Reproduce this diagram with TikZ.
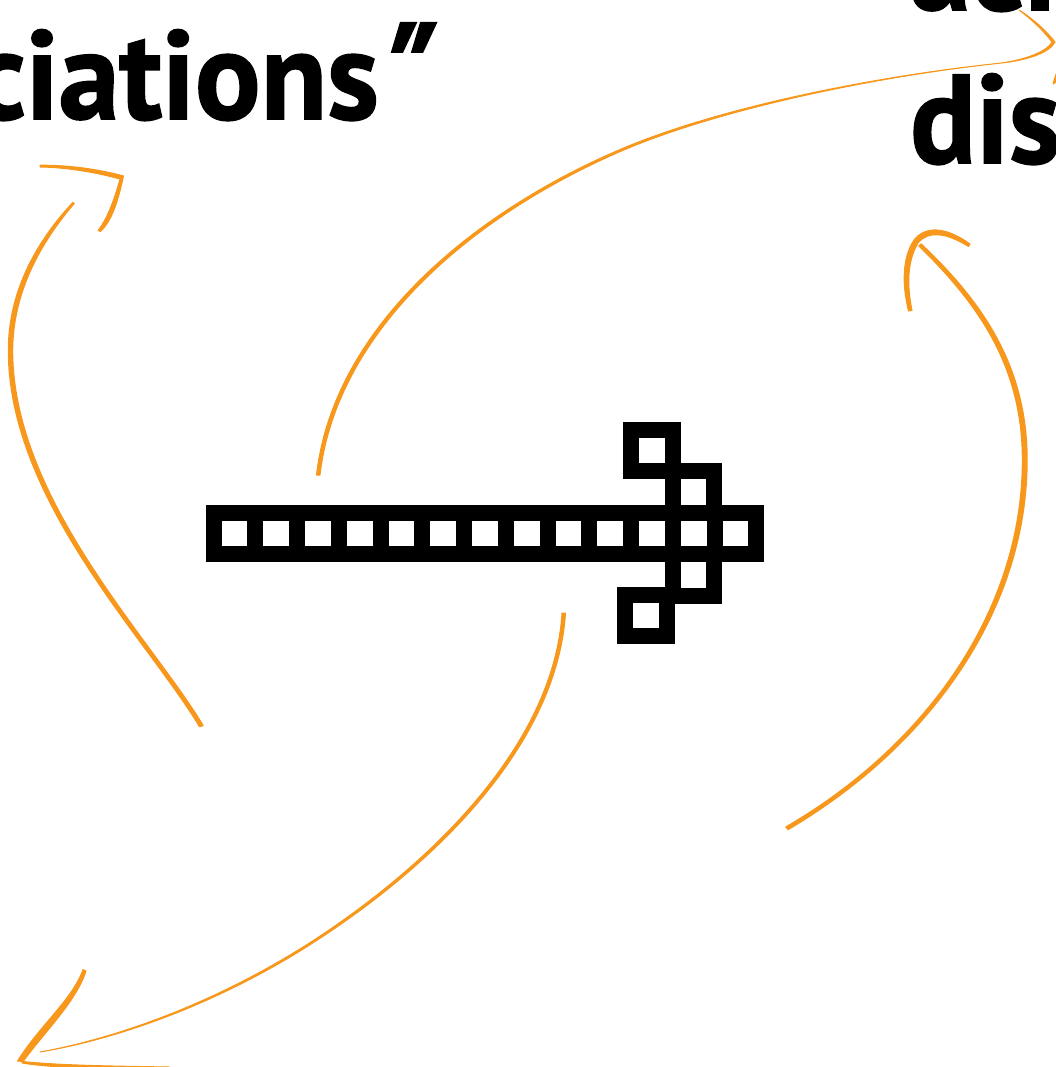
\documentclass[tikz,border=0pt]{standalone}
\usepackage{fontspec}
\setmainfont{PT Sans}
\newfontfamily\headfont{PT Sans Bold}[FakeStretch=0.97,FakeBold=1.3]
\newfontfamily\slantfont{PT Sans Bold}[FakeSlant=0.3,FakeBold=1.2]
\definecolor{ink}{HTML}{F7981D}
\tikzset{
  cell/.style={draw=black,line width=16pt,fill=white,shape=rectangle,inner sep=0pt,outer sep=0pt,minimum size=41.6pt},
  swash/.style={fill=ink,draw=ink,line width=1pt,line join=round,line cap=round},
  heavy/.style={swash,line width=1.4pt},
  head/.style={font=\fontsize{126}{126}\selectfont\headfont,inner sep=0pt,text=black}
}
\begin{document}
\begin{tikzpicture}[x=1pt,y=-1pt]
\useasboundingbox (0,0) rectangle (1056,1067);
\clip (0,0) rectangle (1056,1067);
% heading fragments
\node[head,anchor=base east] (t1) at (379,119) {ciations\rlap{\hspace{-19pt}\raisebox{1pt}{\fontsize{136}{136}\selectfont\slantfont "}}};
\node[head,anchor=base west] (t2) at (910,163) {dis};
\node[head,anchor=base west] (t3) at (910,10) {aci};
% squares
\foreach \i in {0,...,12}{
  \node[cell] (c\i) at ({234.6+41.75*\i},533.5) {};
}
\node[cell] (u1) at (652,450.5) {};
\node[cell] (u2) at (693.5,492) {};
\node[cell] (d1) at (693.5,575) {};
\node[cell] (d2) at (646,615.5) {};
\foreach \i in {0,...,12}{
  \fill[white] ({221.6+41.75*\i},520.7) rectangle +(25.5,25.5);
}
% A
\fill[heavy] (199.5,726.5) .. controls (148,640) and (8,500) .. (8.5,350) .. controls (8.5,290) and (38,240) .. (73,202.5)
  -- (74,203.5) .. controls (42,241) and (13,290) .. (12.5,350) .. controls (12.5,500) and (152,640) .. (203,725.5) -- cycle;
\fill[swash] (40,165.2) .. controls (70,165) and (100,169.5) .. (123.5,176) .. controls (119,197) and (113,220) .. (100.5,231.5)
  -- (98,230.5) .. controls (108,218) and (115,197) .. (120,179) .. controls (100,173.5) and (70,167.5) .. (40,167) -- cycle;
% B
\fill[swash] (316.5,475) .. controls (333,330) and (469,214) .. (620.5,149.3) .. controls (721,106.5) and (880,75.5) .. (1000,63.2)
  .. controls (1030,60) and (1050,52) .. (1055,42) .. controls (1048,33) and (1035,20) .. (1019,10)
  .. controls (1035,22) and (1046,34) .. (1052,42) .. controls (1048,50) and (1030,59) .. (1000,63.2)
  .. controls (880,76) and (721.5,108) .. (621.5,151) .. controls (471,216) and (337,331) .. (320,475) -- cycle;
\fill[swash] (1056,74) -- (1053,84) -- (1056,82) -- cycle;
% C
\fill[heavy] (788,829.5) .. controls (930,746) and (1027,610) .. (1027,460) .. controls (1027,370) and (986,305) .. (921,244)
  -- (919,246) .. controls (982,307) and (1022.5,370) .. (1022.5,460) .. controls (1022.5,610) and (927,745) .. (786,827) -- cycle;
\fill[swash] (908.5,311) .. controls (902,285) and (902,258) .. (914,240) .. controls (925,226) and (945,226) .. (970,244)
  -- (968.5,246.5) .. controls (945,232) and (928,231) .. (918,243) .. controls (907,262) and (907,285) .. (912,310.5) -- cycle;
% D
\fill[swash] (565.5,613) .. controls (557.5,741) and (441,861) .. (311.5,943.8) .. controls (212,1007.5) and (110,1040.5) .. (40,1052)
  .. controls (110,1039.5) and (210,1006.5) .. (310.5,942.3) .. controls (439,859) and (554,740) .. (562,613) -- cycle;
\fill[swash] (83,969.5) .. controls (72,1000) and (40,1025) .. (17.5,1061) .. controls (60,1065.5) and (110,1066) .. (170,1067)
  .. controls (110,1069) and (60,1069) .. (22,1063) .. controls (46,1030) and (76,1002) .. (86,971) -- cycle;
\end{tikzpicture}
\end{document}
